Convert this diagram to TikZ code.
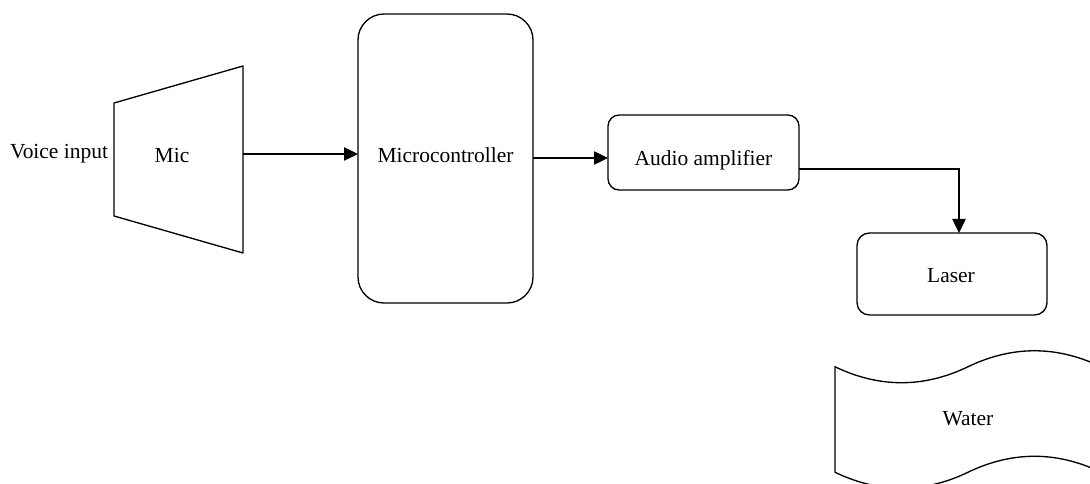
\documentclass[tikz,border=0pt]{standalone}
\usepackage{fontspec}
\setmainfont{Liberation Serif}
\usetikzlibrary{arrows.meta}
\begin{document}
\begin{tikzpicture}[x=0.75pt,y=-0.75pt,
  line width=1pt,
  every node/.style={font=\fontsize{16.1}{19}\selectfont, inner sep=0pt},
  rbox/.style={draw, rectangle, line width=1pt},
  conn/.style={draw, line width=1pt, -{Triangle[length=10.5pt,width=10pt]}},
  outline/.style={draw, line width=1pt, line join=round}]
\useasboundingbox (0,0) rectangle (1090,484);
\clip (0,0) rectangle (1090,484);

% Mic trapezoid
\draw[outline] (114,103) -- (243,66) -- (243,253) -- (114,216) -- cycle;
\node (mic) at (172,156) {Mic};
\node (voice) at (59,154) {Voice input};
\coordinate (micout) at (243,154);

% Microcontroller
\node[rbox, rounded corners=19.5pt, minimum width=131.25pt, minimum height=216.75pt] (mcu) at (445.5,158.5) {};
\node (mcutext) at (445.5,155) {Microcontroller};
\coordinate (mcuin) at (358,154);
\coordinate (mcuout) at (533,158);

% Audio amplifier
\node[rbox, rounded corners=8.4pt, minimum width=143.25pt, minimum height=56.25pt] (amp) at (703.5,152.5) {};
\node (amptext) at (703.5,160) {Audio amplifier};
\coordinate (ampin) at (608,158);
\coordinate (ampout) at (799,169);

% Laser
\node[rbox, rounded corners=9.3pt, minimum width=142.5pt, minimum height=61.5pt] (laser) at (952,274) {};
\node (lasertext) at (951,276) {Laser};
\coordinate (laserin) at (959,233);

% Water (tape shape)
\draw[outline] (835,366.75)
  .. controls (879.3,388.05) and (923.7,388.05) .. (968,366.75)
  .. controls (1012.3,345.45) and (1056.7,345.45) .. (1101,366.75)
  -- (1101,472.25)
  .. controls (1056.7,450.95) and (1012.3,450.95) .. (968,472.25)
  .. controls (923.7,493.55) and (879.3,493.55) .. (835,472.25)
  -- cycle;
\node (water) at (968,419) {Water};

% Connectors
\draw[conn] (micout) -- (mcuin);
\draw[conn] (mcuout) -- (ampin);
\draw[conn] (ampout) -| (laserin);
\end{tikzpicture}
\end{document}
